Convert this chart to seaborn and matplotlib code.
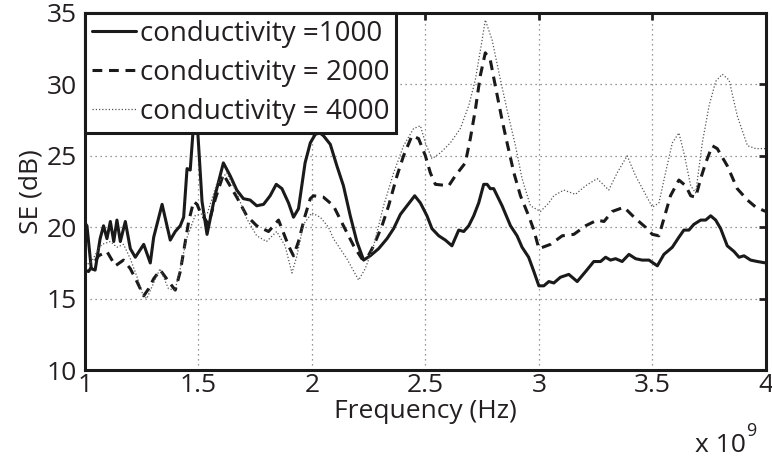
import numpy as np
import pandas as pd
import matplotlib
matplotlib.use("Agg")
import matplotlib.pyplot as plt
import seaborn as sns

# ---------------- data (frequency in GHz, SE in dB) ----------------
x1000 = [1.0, 1.009, 1.028, 1.045, 1.067, 1.082, 1.097, 1.112, 1.127, 1.141, 1.156, 1.178, 1.2, 1.222,
         1.259, 1.288, 1.303, 1.34, 1.376, 1.398, 1.42, 1.435, 1.45, 1.464, 1.48, 1.494, 1.516, 1.538,
         1.573, 1.61, 1.64, 1.669, 1.698, 1.728, 1.757, 1.787, 1.816, 1.843, 1.868, 1.897, 1.919, 1.941,
         1.97, 1.993, 2.015, 2.035, 2.051, 2.081, 2.11, 2.139, 2.169, 2.198, 2.228, 2.257, 2.294, 2.331,
         2.36, 2.39, 2.419, 2.453, 2.478, 2.507, 2.529, 2.559, 2.588, 2.617, 2.647, 2.669, 2.691, 2.713,
         2.735, 2.757, 2.772, 2.786, 2.801, 2.838, 2.875, 2.904, 2.926, 2.955, 2.978, 3.0, 3.022, 3.044,
         3.066, 3.095, 3.132, 3.169, 3.206, 3.242, 3.272, 3.294, 3.316, 3.338, 3.367, 3.397, 3.426, 3.455,
         3.485, 3.522, 3.551, 3.588, 3.617, 3.639, 3.661, 3.683, 3.713, 3.735, 3.757, 3.779, 3.801, 3.83,
         3.86, 3.882, 3.904, 3.933, 3.963, 4.0]
se1000 = [20.3, 20.1, 17.1, 17.0, 19.2, 20.1, 19.2, 20.4, 19.0, 20.5, 19.0, 20.4, 18.5, 17.9,
          18.8, 17.5, 19.3, 21.6, 19.1, 19.7, 20.1, 20.7, 24.1, 24.0, 27.5, 27.5, 21.8, 19.5,
          22.2, 24.5, 23.6, 22.6, 22.0, 21.9, 21.5, 21.6, 22.2, 23.0, 22.7, 21.7, 20.7, 21.3,
          24.5, 25.9, 26.5, 26.6, 26.4, 25.8, 24.3, 22.9, 20.8, 19.0, 17.7, 18.0, 18.5, 19.2,
          19.9, 20.9, 21.5, 22.2, 21.7, 20.8, 19.9, 19.4, 19.1, 18.7, 19.8, 19.7, 20.1, 20.8,
          21.7, 23.0, 23.0, 22.7, 22.7, 21.5, 20.1, 19.4, 18.6, 17.9, 16.9, 15.9, 15.9, 16.2,
          16.1, 16.5, 16.7, 16.2, 16.9, 17.6, 17.6, 17.9, 17.7, 17.8, 17.6, 18.1, 17.8, 17.7,
          17.7, 17.3, 18.1, 18.6, 19.3, 19.8, 19.8, 20.2, 20.5, 20.5, 20.8, 20.5, 19.9, 18.7,
          18.3, 17.9, 18.0, 17.7, 17.6, 17.5]

x2000 = [1.0, 1.016, 1.06, 1.097, 1.134, 1.17, 1.2, 1.229, 1.259, 1.281, 1.303, 1.332, 1.369, 1.398,
         1.42, 1.435, 1.457, 1.479, 1.494, 1.507, 1.544, 1.575, 1.61, 1.632, 1.669, 1.713, 1.757, 1.809,
         1.853, 1.897, 1.919, 1.941, 1.97, 1.993, 2.007, 2.051, 2.095, 2.139, 2.184, 2.22, 2.242, 2.272,
         2.309, 2.338, 2.375, 2.404, 2.441, 2.47, 2.5, 2.522, 2.544, 2.603, 2.632, 2.676, 2.698, 2.72,
         2.742, 2.764, 2.786, 2.808, 2.838, 2.86, 2.89, 2.919, 2.955, 2.978, 3.0, 3.051, 3.103, 3.154,
         3.206, 3.257, 3.287, 3.323, 3.375, 3.426, 3.47, 3.5, 3.529, 3.551, 3.58, 3.617, 3.647, 3.669,
         3.691, 3.713, 3.735, 3.764, 3.786, 3.83, 3.874, 3.919, 3.956, 4.0]
se2000 = [17.0, 16.9, 18.0, 18.3, 17.3, 17.7, 17.1, 16.2, 15.2, 15.7, 16.4, 17.0, 16.2, 15.6,
          16.9, 18.3, 20.4, 21.8, 21.6, 21.1, 20.2, 22.0, 23.7, 23.1, 22.1, 20.8, 20.1, 19.7,
          20.5, 18.7, 18.0, 19.0, 20.8, 22.0, 22.2, 22.1, 21.5, 20.1, 18.7, 17.8, 17.8, 18.7,
          20.1, 21.5, 23.6, 25.0, 26.4, 26.2, 25.0, 23.8, 23.0, 22.9, 23.6, 24.5, 26.2, 28.2,
          30.6, 32.2, 31.7, 29.9, 27.5, 25.9, 23.8, 22.2, 20.8, 19.8, 18.5, 18.8, 19.4, 19.5,
          20.1, 20.5, 20.4, 21.1, 21.4, 20.6, 20.0, 19.5, 19.4, 20.6, 22.2, 23.3, 22.9, 22.2,
          22.1, 23.4, 24.5, 25.7, 25.5, 24.3, 22.7, 21.9, 21.4, 21.1]

x4000 = [1.0, 1.03, 1.06, 1.075, 1.112, 1.141, 1.17, 1.2, 1.23, 1.255, 1.272, 1.3, 1.331, 1.368,
         1.397, 1.42, 1.448, 1.485, 1.507, 1.54, 1.58, 1.625, 1.669, 1.713, 1.757, 1.8, 1.845, 1.882,
         1.912, 1.934, 1.963, 2.0, 2.037, 2.073, 2.095, 2.154, 2.206, 2.235, 2.272, 2.316, 2.36, 2.404,
         2.448, 2.478, 2.5, 2.529, 2.566, 2.61, 2.654, 2.691, 2.72, 2.75, 2.764, 2.794, 2.831, 2.86,
         2.897, 2.926, 2.963, 3.007, 3.044, 3.066, 3.11, 3.161, 3.206, 3.257, 3.308, 3.345, 3.389, 3.426,
         3.47, 3.5, 3.529, 3.558, 3.588, 3.617, 3.639, 3.669, 3.691, 3.72, 3.75, 3.779, 3.808, 3.838,
         3.874, 3.919, 3.956, 4.0]
se4000 = [17.3, 17.6, 18.5, 18.8, 19.0, 18.6, 18.8, 17.8, 16.5, 15.3, 15.0, 16.0, 17.1, 15.7,
          15.6, 17.1, 19.2, 20.8, 20.9, 21.0, 23.0, 23.8, 22.4, 20.6, 19.4, 19.0, 19.7, 18.7,
          16.8, 18.0, 20.2, 21.0, 20.7, 20.0, 19.2, 17.8, 16.3, 17.1, 18.7, 21.5, 23.8, 25.7,
          26.9, 27.1, 25.9, 24.8, 25.2, 25.9, 26.9, 28.5, 30.3, 33.1, 34.5, 33.1, 30.3, 28.2,
          25.7, 23.4, 21.5, 21.1, 21.7, 22.2, 22.6, 22.3, 22.9, 23.4, 22.6, 23.8, 25.0, 23.6,
          22.3, 21.4, 21.7, 23.8, 25.9, 26.6, 25.2, 22.9, 22.4, 25.9, 28.5, 30.2, 30.7, 30.3,
          27.8, 25.7, 25.5, 25.5]

labels = ["conductivity =1000", "conductivity = 2000", "conductivity = 4000"]
xticks = [1, 1.5, 2, 2.5, 3, 3.5, 4]
xticklabels = ["1", "1.5", "2", "2.5", "3", "3.5", "4"]
yticks = [10, 15, 20, 25, 30, 35]

# ---------------- style ----------------
sns.set_theme(style="white")
plt.rcParams["font.family"] = ["Open Sans", "DejaVu Sans"]
ink = "#231f20"
plt.rcParams["text.color"] = ink
plt.rcParams["axes.labelcolor"] = ink
plt.rcParams["xtick.color"] = ink
plt.rcParams["ytick.color"] = ink

fig = plt.figure(figsize=(7.72, 4.57), dpi=100)
ax = fig.add_axes([0.110, 0.190, 0.882, 0.782])

frames = [
    pd.DataFrame({"f": x1000, "se": se1000}),
    pd.DataFrame({"f": x2000, "se": se2000}),
    pd.DataFrame({"f": x4000, "se": se4000}),
]
styles = [
    dict(color="#1a1a1a", linewidth=2.2, linestyle="-"),
    dict(color="#1a1a1a", linewidth=2.2, linestyle=(0, (3.2, 2.2))),
    dict(color="#555555", linewidth=0.9, linestyle=(0, (1, 1.6))),
]
for df, st, lab in zip(frames, styles, labels):
    sns.lineplot(data=df, x="f", y="se", ax=ax, label=lab, sort=False, **st)

ax.set_xlim(1, 4)
ax.set_ylim(10, 35)
ax.set_xticks(xticks)
ax.set_xticklabels(xticklabels)
ax.set_yticks(yticks)

ax.grid(True, which="major", color="#777777", linestyle=(0, (1, 3)), linewidth=0.9)
ax.set_axisbelow(True)
for sp in ax.spines.values():
    sp.set_linewidth(2.2)
    sp.set_color("#1a1a1a")
    sp.set_visible(True)

ax.tick_params(direction="in", length=5, width=2, top=True, right=True,
               labelsize=19)
ax.tick_params(axis="x", pad=2)
ax.tick_params(axis="y", pad=6)

ax.set_xlabel("Frequency (Hz)", fontsize=19, labelpad=1)
ax.set_ylabel("SE (dB)", fontsize=19, labelpad=2)

fig.text(0.900, 0.010, "x 10", fontsize=19, ha="left", va="baseline")
fig.text(0.966, 0.046, "9", fontsize=13, ha="left", va="baseline")

leg = ax.legend(loc="upper left", fontsize=20, frameon=True, fancybox=False,
                borderaxespad=0, handlelength=1.6, handletextpad=0.12,
                borderpad=0.25, labelspacing=0.4)
leg.get_frame().set_edgecolor("#1a1a1a")
leg.get_frame().set_linewidth(2.2)
leg.get_frame().set_alpha(1)

fig.savefig("out.png", dpi=100)
